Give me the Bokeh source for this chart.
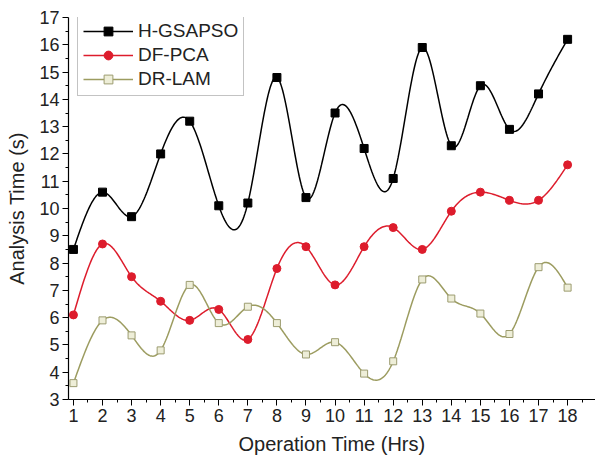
import numpy as np
from bokeh.plotting import figure
from bokeh.models import FixedTicker, Legend, LegendItem, Range1d
from bokeh.embed import file_html
from bokeh.resources import INLINE

hours = list(range(1, 19))
h_gsapso = [8.5, 10.6, 9.7, 12.0, 13.2, 10.1, 10.2, 14.8, 10.4, 13.5, 12.2, 11.1, 15.9, 12.3, 14.5, 12.9, 14.2, 16.2]
df_pca = [6.1, 8.7, 7.5, 6.6, 5.9, 6.3, 5.2, 7.8, 8.6, 7.2, 8.6, 9.3, 8.5, 9.9, 10.6, 10.3, 10.3, 11.6]
dr_lam = [3.6, 5.9, 5.35, 4.8, 7.2, 5.8, 6.4, 5.8, 4.65, 5.1, 3.95, 4.4, 7.4, 6.7, 6.15, 5.4, 7.85, 7.1]
x_ticks = list(range(1, 19))
y_ticks = list(range(3, 18))


def natural_spline(x, y, per_seg=30):
    x = np.asarray(x, float)
    y = np.asarray(y, float)
    n = len(x)
    h = np.diff(x)
    A = np.zeros((n, n))
    b = np.zeros(n)
    A[0, 0] = 1
    A[-1, -1] = 1
    for i in range(1, n - 1):
        A[i, i - 1] = h[i - 1]
        A[i, i] = 2 * (h[i - 1] + h[i])
        A[i, i + 1] = h[i]
        b[i] = 6 * ((y[i + 1] - y[i]) / h[i] - (y[i] - y[i - 1]) / h[i - 1])
    M = np.linalg.solve(A, b)
    xs, ys = [], []
    for i in range(n - 1):
        t = np.linspace(x[i], x[i + 1], per_seg, endpoint=(i == n - 2))
        a = x[i + 1] - t
        c = t - x[i]
        s = (M[i] * a ** 3 + M[i + 1] * c ** 3) / (6 * h[i]) \
            + (y[i] / h[i] - M[i] * h[i] / 6) * a \
            + (y[i + 1] / h[i] - M[i + 1] * h[i] / 6) * c
        xs.extend(t.tolist())
        ys.extend(s.tolist())
    return xs, ys


FONT = "Liberation Sans"

p = figure(width=595, height=464, output_backend="svg", toolbar_location=None,
           x_range=Range1d(0.83, 18.96), y_range=Range1d(3, 17),
           min_border_left=68, min_border_right=0, min_border_top=17, min_border_bottom=65)
p.outline_line_color = None
p.grid.visible = False
p.background_fill_color = "white"

p.xaxis.ticker = FixedTicker(ticks=x_ticks, minor_ticks=[v + 0.5 for v in x_ticks])
p.yaxis.ticker = FixedTicker(ticks=y_ticks, minor_ticks=[v + 0.5 for v in y_ticks[:-1]])
for ax in (p.xaxis[0], p.yaxis[0]):
    ax.axis_line_color = "black"
    ax.axis_line_width = 1.2
    ax.major_tick_line_color = "black"
    ax.minor_tick_line_color = "black"
    ax.major_tick_out = 6
    ax.major_tick_in = 0
    ax.minor_tick_out = 3
    ax.minor_tick_in = 0
    ax.major_label_text_font = FONT
    ax.major_label_text_font_size = "18px"
    ax.major_label_text_color = "#222222"
    ax.axis_label_text_font = FONT
    ax.axis_label_text_font_size = "20px"
    ax.axis_label_text_font_style = "normal"
    ax.axis_label_text_color = "#222222"
p.xaxis.axis_label = "Operation Time (Hrs)"
p.yaxis.axis_label = "Analysis Time (s)"
p.xaxis.major_label_standoff = 3
p.yaxis.major_label_standoff = 3
p.xaxis.axis_label_standoff = 8
p.yaxis.axis_label_standoff = 8

series = [
    ("H-GSAPSO", h_gsapso, "black", "square", "black", "black", 8),
    ("DF-PCA", df_pca, "#dd1c2c", "circle", "#dd1c2c", "#dd1c2c", 8),
    ("DR-LAM", dr_lam, "#9c9c60", "square", "#eeeed8", "#9c9c70", 7),
]
items = []
for name, vals, lc, marker, fc, mc, sz in series:
    sx, sy = natural_spline(hours, vals)
    lr = p.line(sx, sy, line_color=lc, line_width=1.5)
    sr = p.scatter(hours, vals, marker=marker, size=sz, fill_color=fc, line_color=mc, line_width=1)
    items.append(LegendItem(label=name, renderers=[lr, sr]))

legend = Legend(items=items, location=(9, 303))
legend.label_text_font = FONT
legend.label_text_font_size = "19px"
legend.label_text_color = "#222222"
legend.glyph_width = 50
legend.glyph_height = 22
legend.label_height = 22
legend.label_standoff = 5
legend.spacing = 2
legend.padding = 5
legend.border_line_color = "#888888"
legend.border_line_width = 1
legend.background_fill_alpha = 1
p.add_layout(legend, "center")

open("out.html", "w").write(file_html(p, INLINE))
